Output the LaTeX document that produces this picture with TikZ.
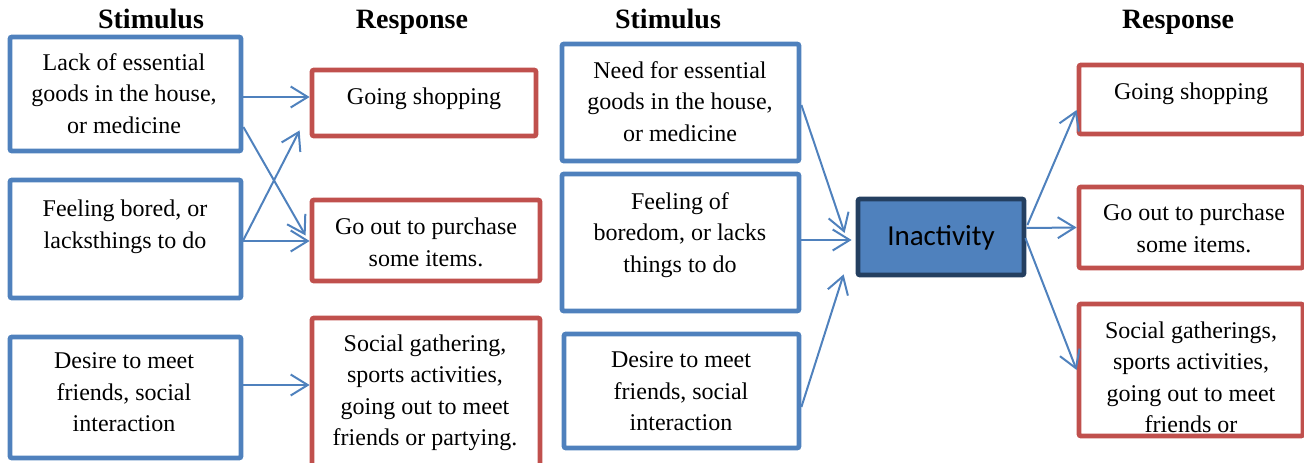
\documentclass[tikz,border=0pt]{standalone}
\usepackage{fontspec}
\setmainfont{Liberation Serif}
\newfontfamily\calib{Carlito}
\usetikzlibrary{arrows.meta,fit}
\definecolor{sblue}{HTML}{4F81BD}
\definecolor{rred}{HTML}{C0504D}
\definecolor{navy}{HTML}{243F60}
\begin{document}
\begin{tikzpicture}[x=1pt,y=-1pt,
  boxbase/.style={inner sep=0pt, line width=4.8pt, rounded corners=2pt},
  sbox/.style={boxbase, draw=sblue},
  rbox/.style={boxbase, draw=rred},
  ibox/.style={boxbase, draw=navy, fill=sblue},
  txt/.style={align=center, inner sep=0pt, font=\fontsize{24}{31.5}\selectfont,
    execute at begin node=\strut, execute at end node=\strut},
  head/.style={inner sep=0pt, anchor=base, font=\fontsize{28}{30}\selectfont\bfseries},
  conn/.style={draw=sblue, line width=2pt, -{Straight Barb[length=17pt,width=21pt]}}
]
\useasboundingbox (0,0) rectangle (1304,463);
\clip (0,0) rectangle (1304,463);

% headers
\node[head] (h1) at (151,28) {Stimulus};
\node[head] (h2) at (412,28) {Response};
\node[head] (h3) at (668,28) {Stimulus};
\node[head] (h4) at (1178,28) {Response};

% left stimulus boxes
\node[sbox, fit={(10,37) (241,151)}] (L1) {};
\node[sbox, fit={(10,180) (241,298)}] (L2) {};
\node[sbox, fit={(10,337) (241,458)}] (L3) {};
\node[txt] (tL1) at (124,98) {Lack of essential\\goods in the house,\\or medicine};
\node[txt] (tL2) at (125,229) {Feeling bored, or\\lacksthings to do};
\node[txt] (tL3) at (124,397) {Desire to meet\\friends, social\\interaction};

% left response boxes
\node[rbox, fit={(312,70) (536,136)}] (R1) {};
\node[rbox, fit={(312,200) (540,281)}] (R2) {};
\node[rbox, fit={(312,318) (540,468)}] (R3) {};
\node[txt] (tR1) at (424,98) {Going shopping};
\node[txt] (tR2) at (426,247) {Go out to purchase\\some items.};
\node[txt] (tR3) at (425,395) {Social gathering,\\sports activities,\\going out to meet\\friends or partying.};

% middle stimulus boxes
\node[sbox, fit={(562,44) (799,161)}] (M1) {};
\node[sbox, fit={(562,174) (799,311)}] (M2) {};
\node[sbox, fit={(564,334) (799,448)}] (M3) {};
\node[txt] (tM1) at (680,106) {Need for essential\\goods in the house,\\or medicine};
\node[txt] (tM2) at (680,237) {Feeling of\\boredom, or lacks\\things to do};
\node[txt] (tM3) at (681,396) {Desire to meet\\friends, social\\interaction};

% inactivity
\node[ibox, fit={(858,199) (1024,275)}] (I) {};
\node[inner sep=0pt, font=\calib\fontsize{29}{35}\selectfont, execute at begin node=\strut] (tI) at (941,238) {Inactivity};

% right response boxes
\node[rbox, fit={(1079,65) (1303,134)}] (RR1) {};
\node[rbox, fit={(1079,187) (1303,268)}] (RR2) {};
\node[rbox, fit={(1079,304) (1303,436)}] (RR3) {};
\node[txt] (tRR1) at (1191,93) {Going shopping};
\node[txt] (tRR2) at (1194,233) {Go out to purchase\\some items.};
\node[txt] (tRR3) at (1191,382) {Social gatherings,\\sports activities,\\going out to meet\\friends or};

% left connectors
\draw[conn] ([yshift=-3pt]L1.east) -- ([yshift=6pt]R1.west);
\draw[conn] ([yshift=-33pt]L1.east) -- ([xshift=-4pt,yshift=5pt]R2.west);
\draw[conn] ([yshift=-1pt]L2.east) -- ([xshift=-10pt,yshift=8pt]R1.south west);
\draw[conn] ([yshift=-2pt]L2.east) -- ([yshift=-0.5pt]R2.west);
\draw[conn] ([yshift=12.5pt]L3.east) -- ([yshift=8pt]R3.west);

% middle connectors
\draw[conn] ([yshift=-2.5pt]M1.east) -- ([xshift=-11pt,yshift=4pt]I.west);
\draw[conn] ([yshift=2.5pt]M2.east) -- ([xshift=-4pt,yshift=-3pt]I.west);
\draw[conn] ([yshift=-16pt]M3.east) -- ([xshift=-12pt,yshift=3pt]I.south west);

% right connectors
\draw[conn] ([xshift=1pt,yshift=12pt]I.east) -- ([yshift=-10.5pt]RR1.west);
\draw[conn] ([yshift=9pt]I.east) -- (RR2.west);
\draw[conn] ([xshift=-1pt,yshift=-1pt]I.east) -- (RR3.west);
\end{tikzpicture}
\end{document}
